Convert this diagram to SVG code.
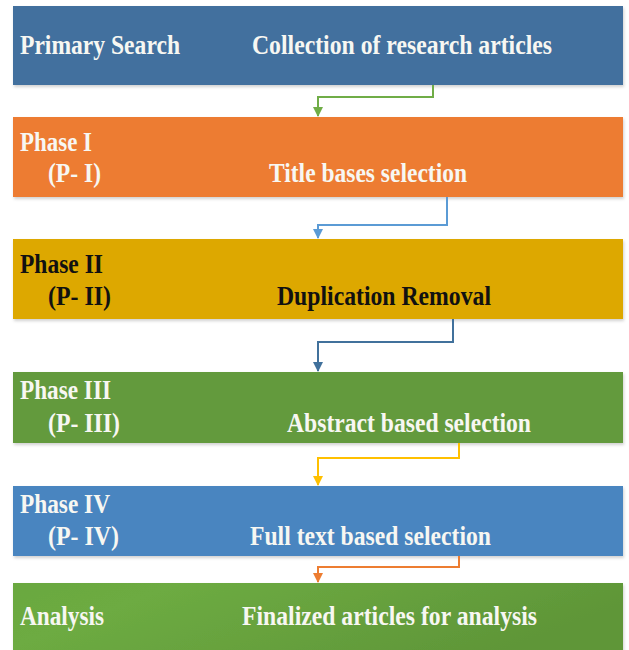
<svg xmlns="http://www.w3.org/2000/svg" width="629" height="650" viewBox="0 0 629 650">
<defs>
<filter id="sh" x="-5%" y="-10%" width="110%" height="130%">
<feDropShadow dx="1" dy="2" stdDeviation="1.5" flood-color="#000" flood-opacity="0.18"/>
</filter>
<linearGradient id="g6" x1="0" y1="0" x2="1" y2="0.3">
<stop offset="0" stop-color="#6aa83f"/>
<stop offset="0.25" stop-color="#6dab42"/>
<stop offset="1" stop-color="#5f9638"/>
</linearGradient>
<marker id="a1" viewBox="0 0 10 10" refX="9" refY="5" markerWidth="5" markerHeight="5" orient="auto" markerUnits="strokeWidth"><path d="M0,0 L10,5 L0,10 z" fill="#70ad47"/></marker>
<marker id="a2" viewBox="0 0 10 10" refX="9" refY="5" markerWidth="5" markerHeight="5" orient="auto" markerUnits="strokeWidth"><path d="M0,0 L10,5 L0,10 z" fill="#5b9bd5"/></marker>
<marker id="a3" viewBox="0 0 10 10" refX="9" refY="5" markerWidth="5" markerHeight="5" orient="auto" markerUnits="strokeWidth"><path d="M0,0 L10,5 L0,10 z" fill="#41719c"/></marker>
<marker id="a4" viewBox="0 0 10 10" refX="9" refY="5" markerWidth="5" markerHeight="5" orient="auto" markerUnits="strokeWidth"><path d="M0,0 L10,5 L0,10 z" fill="#ffc000"/></marker>
<marker id="a5" viewBox="0 0 10 10" refX="9" refY="5" markerWidth="5" markerHeight="5" orient="auto" markerUnits="strokeWidth"><path d="M0,0 L10,5 L0,10 z" fill="#ed7d31"/></marker>
</defs>
<style>
.box{filter:url(#sh);}
text{font-family:"Liberation Serif","Times New Roman",serif;font-weight:bold;font-size:27px;}
.w{fill:#f7f7f2;}
.k{fill:#111;}
.c{fill:none;stroke-width:2;}
</style>
<rect width="629" height="650" fill="#ffffff"/>

<g id="primary">
<rect class="box" x="13" y="6" width="610" height="79" fill="#43709e"/>
<text class="w" x="20" y="54" textLength="160" lengthAdjust="spacingAndGlyphs">Primary Search</text>
<text class="w" x="252" y="54" textLength="300" lengthAdjust="spacingAndGlyphs">Collection of research articles</text>
</g>

<g id="phase1">
<rect class="box" x="13" y="117" width="610" height="80" fill="#ed7c31"/>
<text class="w" x="20" y="151" textLength="72" lengthAdjust="spacingAndGlyphs">Phase I</text>
<text class="w" x="48" y="182" textLength="53" lengthAdjust="spacingAndGlyphs">(P- I)</text>
<text class="w" x="269" y="182" textLength="198" lengthAdjust="spacingAndGlyphs">Title bases selection</text>
</g>

<g id="phase2">
<rect class="box" x="13" y="239" width="610" height="80" fill="#dda800"/>
<text class="k" x="20" y="273" textLength="83" lengthAdjust="spacingAndGlyphs">Phase II</text>
<text class="k" x="48" y="305" textLength="63" lengthAdjust="spacingAndGlyphs">(P- II)</text>
<text class="k" x="277" y="305" textLength="214" lengthAdjust="spacingAndGlyphs">Duplication Removal</text>
</g>

<g id="phase3">
<rect class="box" x="13" y="372" width="610" height="71" fill="#649a3c"/>
<text class="w" x="20" y="399" textLength="91" lengthAdjust="spacingAndGlyphs">Phase III</text>
<text class="w" x="48" y="432" textLength="72" lengthAdjust="spacingAndGlyphs">(P- III)</text>
<text class="w" x="287" y="432" textLength="244" lengthAdjust="spacingAndGlyphs">Abstract based selection</text>
</g>

<g id="phase4">
<rect class="box" x="13" y="486" width="610" height="70" fill="#4a85c0"/>
<text class="w" x="20" y="513" textLength="90" lengthAdjust="spacingAndGlyphs">Phase IV</text>
<text class="w" x="48" y="545" textLength="71" lengthAdjust="spacingAndGlyphs">(P- IV)</text>
<text class="w" x="250" y="545" textLength="241" lengthAdjust="spacingAndGlyphs">Full text based selection</text>
</g>

<g id="analysis">
<rect class="box" x="13" y="583" width="610" height="70" fill="url(#g6)"/>
<text class="w" x="20" y="625" textLength="84" lengthAdjust="spacingAndGlyphs">Analysis</text>
<text class="w" x="242" y="625" textLength="295" lengthAdjust="spacingAndGlyphs">Finalized articles for analysis</text>
</g>

<g id="connectors">
<path class="c" d="M433,85 V97 H318 V116" stroke="#70ad47" marker-end="url(#a1)"/>
<path class="c" d="M447,197 V225 H318 V238" stroke="#5b9bd5" marker-end="url(#a2)"/>
<path class="c" d="M453,319 V342 H318 V371" stroke="#41719c" marker-end="url(#a3)"/>
<path class="c" d="M459,443 V458 H318 V485" stroke="#ffc000" marker-end="url(#a4)"/>
<path class="c" d="M459,556 V567 H318 V582" stroke="#ed7d31" marker-end="url(#a5)"/>
</g>
</svg>
